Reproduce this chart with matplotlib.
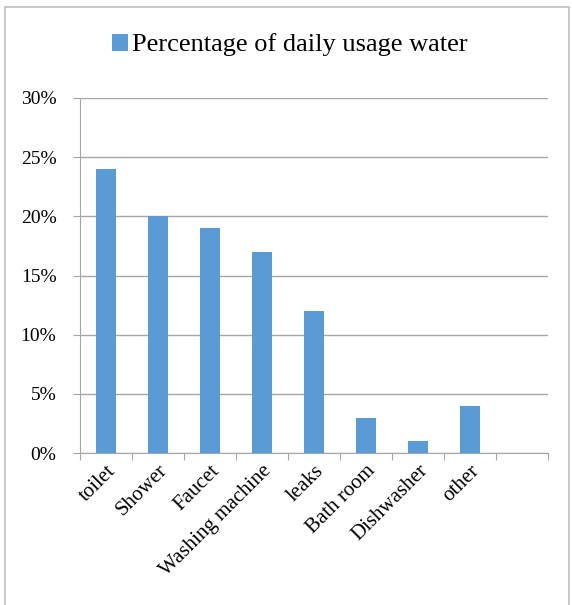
import matplotlib.pyplot as plt
from matplotlib.patches import Rectangle
from matplotlib.ticker import FuncFormatter

# data
categories = ["toilet", "Shower", "Faucet", "Washing machine", "leaks",
              "Bath room", "Dishwasher", "other", ""]
values = [24, 20, 19, 17, 12, 3, 1, 4, None]
series_name = "Percentage of daily usage water"

plt.rcParams['font.family'] = ['Liberation Serif', 'DejaVu Serif']

W, H = 572, 605
fig = plt.figure(figsize=(W / 100, H / 100), dpi=100)
ax = fig.add_axes([80 / W, 1 - 453 / H, (548 - 80) / W, (453 - 98) / H])

bar_color = "#5B9BD5"
grid_color = "#A6A6A6"

xs = list(range(len(categories)))
heights = [v if v is not None else 0 for v in values]
bars = ax.bar(xs, heights, width=0.4, color=bar_color, label=series_name, zorder=3)

ax.set_xlim(-0.5, len(categories) - 0.5)
ax.set_ylim(0, 30)
ax.set_yticks(range(0, 31, 5))
ax.yaxis.set_major_formatter(FuncFormatter(lambda v, p: f"{int(v)}%"))
ax.grid(axis='y', color=grid_color, linewidth=1, zorder=0)

# x ticks at category boundaries, labels at centres
ax.set_xticks([i - 0.5 for i in range(len(categories) + 1)])
ax.set_xticklabels([])
ax.set_xticks(xs, minor=True)
ax.set_xticklabels(categories, minor=True, rotation=45, ha='right',
                   rotation_mode='anchor', fontsize=15)
ax.tick_params(axis='x', which='minor', length=0, pad=6)
ax.tick_params(axis='x', which='major', length=5, color=grid_color)
ax.tick_params(axis='y', length=5, color=grid_color, labelsize=14, pad=12)

for s in ['top', 'right']:
    ax.spines[s].set_visible(False)
for s in ['left', 'bottom']:
    ax.spines[s].set_color(grid_color)

fig.legend(handles=[bars], labels=[series_name], loc='center',
           bbox_to_anchor=(290 / W, 1 - 45 / H), frameon=False,
           fontsize=19, handlelength=0.6, handleheight=0.6, handletextpad=0.15)

# chart border
fig.patches.append(Rectangle((5 / W, -0.02), (569 - 5) / W, 1 - 7 / H + 0.02,
                             transform=fig.transFigure, fill=False,
                             edgecolor="#BFBFBF", linewidth=1.2))

fig.savefig("out.png", dpi=100)
